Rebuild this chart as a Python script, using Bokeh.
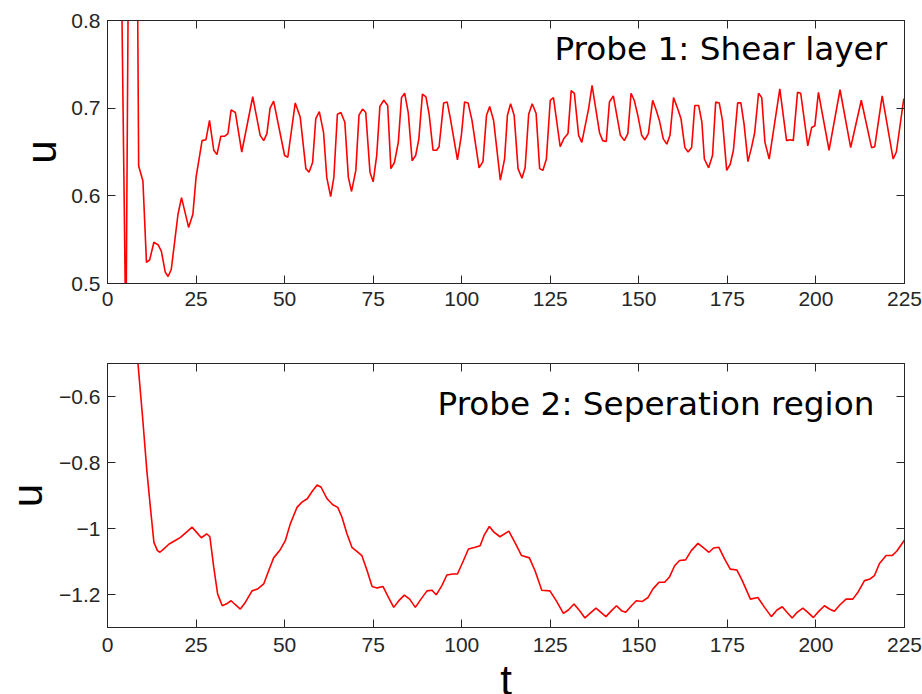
from bokeh.plotting import figure
from bokeh.models import Range1d, LinearAxis, FixedTicker, Label
from bokeh.layouts import column
from bokeh.embed import file_html
from bokeh.resources import INLINE

# ---------------- data ----------------
x_ticks = [0, 25, 50, 75, 100, 125, 150, 175, 200, 225]
y1_ticks = [0.5, 0.6, 0.7, 0.8]
y1_labels = ["0.5", "0.6", "0.7", "0.8"]
y2_ticks = [-1.2, -1.0, -0.8, -0.6]
y2_labels = ["\u22121.2", "\u22121", "\u22120.8", "\u22120.6"]

title1 = "Probe 1: Shear layer"
title2 = "Probe 2: Seperation region"
y_title = "u"
x_title = "t"

# Probe 1 (shear layer)
t1 = [3.5, 5.2, 6.0, 8.3, 8.8, 10.0, 11.0, 11.9, 13.1, 14.3,
      15.2, 16.3, 17.1, 18.0, 19.9, 20.9, 22.9, 24.1, 25.0, 26.7,
      27.8, 28.8, 30.0, 30.9, 32.0, 33.1, 34.0, 34.9, 36.1, 37.9,
      41.0, 43.1, 44.1, 45.0, 45.9, 46.9, 50.0, 50.9, 53.0, 54.4,
      56.0, 56.9, 57.9, 58.8, 59.8, 61.0, 61.9, 63.0, 63.9, 64.9,
      65.9, 67.0, 68.0, 68.9, 70.1, 71.0, 72.0, 72.9, 74.1, 75.0,
      76.0, 76.9, 78.0, 79.1, 80.0, 81.0, 82.1, 83.0, 83.9, 84.9,
      86.0, 87.0, 87.9, 88.9, 89.9, 90.8, 91.9, 92.9, 93.6, 94.9,
      95.9, 96.8, 98.8, 99.9, 100.8, 101.8, 102.9, 104.9, 106.0, 107.0,
      107.9, 109.0, 110.9, 112.1, 112.9, 113.8, 114.8, 115.9, 117.0, 117.9,
      118.9, 119.9, 121.0, 122.0, 122.9, 123.9, 125.0, 125.9, 127.8, 128.8,
      130.0, 130.9, 131.8, 133.0, 133.9, 135.8, 136.8, 138.9, 139.8, 140.8,
      141.7, 142.8, 144.8, 145.9, 146.9, 147.8, 148.7, 149.7, 150.8, 151.7,
      152.7, 153.9, 154.8, 155.8, 156.9, 157.9, 158.8, 159.8, 161.0, 161.9,
      163.0, 163.9, 164.9, 165.8, 166.9, 167.8, 168.5, 169.7, 170.8, 171.7,
      172.7, 173.6, 174.8, 175.8, 176.7, 177.9, 178.8, 179.7, 180.8, 181.8,
      182.7, 183.8, 184.7, 185.6, 186.8, 189.8, 191.7, 192.7, 193.6, 194.8,
      195.7, 197.7, 198.8, 199.7, 200.7, 203.7, 206.8, 209.8, 212.8, 215.7,
      216.6, 218.7, 221.8, 222.7, 224.8]
u1 = [1.0, 0.43, 0.93, 0.95, 0.634, 0.617, 0.524, 0.527, 0.547, 0.544,
      0.537, 0.513, 0.508, 0.516, 0.579, 0.598, 0.564, 0.579, 0.621, 0.663,
      0.664, 0.686, 0.652, 0.647, 0.668, 0.668, 0.671, 0.698, 0.695, 0.650,
      0.713, 0.669, 0.663, 0.671, 0.700, 0.708, 0.646, 0.644, 0.706, 0.690,
      0.631, 0.627, 0.638, 0.688, 0.696, 0.672, 0.621, 0.599, 0.621, 0.693,
      0.695, 0.684, 0.621, 0.605, 0.629, 0.692, 0.699, 0.695, 0.627, 0.616,
      0.646, 0.702, 0.709, 0.703, 0.631, 0.638, 0.661, 0.712, 0.717, 0.695,
      0.640, 0.646, 0.665, 0.716, 0.713, 0.693, 0.652, 0.652, 0.656, 0.706,
      0.707, 0.688, 0.641, 0.669, 0.707, 0.706, 0.686, 0.632, 0.639, 0.692,
      0.702, 0.686, 0.618, 0.642, 0.692, 0.705, 0.692, 0.631, 0.620, 0.632,
      0.693, 0.705, 0.694, 0.631, 0.629, 0.642, 0.709, 0.712, 0.656, 0.665,
      0.671, 0.720, 0.717, 0.669, 0.661, 0.699, 0.726, 0.672, 0.663, 0.662,
      0.707, 0.714, 0.669, 0.663, 0.671, 0.717, 0.709, 0.692, 0.669, 0.664,
      0.671, 0.709, 0.699, 0.686, 0.665, 0.659, 0.669, 0.712, 0.699, 0.688,
      0.655, 0.650, 0.655, 0.703, 0.703, 0.684, 0.642, 0.632, 0.646, 0.707,
      0.706, 0.686, 0.629, 0.636, 0.652, 0.706, 0.706, 0.682, 0.639, 0.655,
      0.672, 0.717, 0.712, 0.661, 0.642, 0.722, 0.663, 0.664, 0.663, 0.718,
      0.717, 0.657, 0.678, 0.680, 0.718, 0.652, 0.721, 0.655, 0.709, 0.655,
      0.656, 0.714, 0.642, 0.650, 0.711]

# Probe 2 (separation region)
t2 = [7.8, 9.9, 11.1, 12.2, 13.1, 14.1, 14.8, 15.9, 17.4, 19.0,
      20.6, 22.3, 23.9, 25.1, 26.5, 28.0, 28.9, 30.0, 31.1, 32.4,
      33.8, 34.9, 36.1, 37.5, 38.9, 40.8, 42.4, 44.1, 45.5, 46.9,
      48.6, 50.2, 51.6, 53.5, 54.9, 56.4, 57.8, 59.2, 60.3, 62.0,
      63.6, 65.0, 66.2, 67.6, 69.0, 70.4, 71.8, 73.3, 74.7, 76.1,
      77.8, 79.1, 80.8, 82.4, 83.8, 85.3, 86.9, 88.5, 90.2, 91.6,
      92.8, 94.4, 95.8, 97.5, 98.8, 100.5, 101.9, 103.8, 105.2, 106.3,
      107.8, 109.1, 110.8, 113.3, 115.0, 116.9, 119.1, 120.7, 122.6, 124.9,
      126.8, 128.7, 130.1, 131.7, 133.4, 134.8, 136.2, 137.9, 139.3, 140.7,
      142.3, 143.7, 145.1, 146.3, 147.9, 149.3, 151.0, 152.6, 154.0, 155.7,
      157.3, 158.7, 160.1, 161.5, 163.2, 164.8, 166.7, 168.3, 169.8, 171.1,
      172.6, 174.2, 175.8, 177.7, 179.2, 181.5, 183.6, 185.5, 187.4, 189.0,
      190.5, 191.8, 193.3, 194.7, 196.3, 197.7, 199.3, 200.8, 202.4, 203.8,
      205.2, 206.8, 208.5, 210.4, 211.8, 213.7, 215.3, 216.5, 217.9, 219.8,
      221.5, 222.8, 225.0]
u2 = [-0.40, -0.662, -0.824, -0.946, -1.042, -1.067, -1.072, -1.062, -1.047, -1.037,
      -1.027, -1.011, -0.996, -1.011, -1.028, -1.016, -1.025, -1.118, -1.199, -1.234,
      -1.227, -1.219, -1.231, -1.244, -1.224, -1.189, -1.183, -1.168, -1.128, -1.089,
      -1.067, -1.037, -0.986, -0.936, -0.920, -0.910, -0.887, -0.868, -0.875, -0.910,
      -0.928, -0.936, -0.966, -1.016, -1.057, -1.069, -1.082, -1.128, -1.176, -1.180,
      -1.176, -1.204, -1.239, -1.217, -1.202, -1.214, -1.239, -1.214, -1.189, -1.187,
      -1.201, -1.173, -1.141, -1.138, -1.138, -1.097, -1.062, -1.057, -1.052, -1.021,
      -0.994, -1.011, -1.025, -1.008, -1.042, -1.082, -1.089, -1.128, -1.187, -1.189,
      -1.221, -1.257, -1.247, -1.229, -1.251, -1.271, -1.257, -1.241, -1.254, -1.267,
      -1.249, -1.234, -1.249, -1.254, -1.234, -1.219, -1.221, -1.209, -1.183, -1.163,
      -1.163, -1.146, -1.113, -1.097, -1.095, -1.067, -1.045, -1.059, -1.072, -1.059,
      -1.057, -1.092, -1.123, -1.126, -1.158, -1.214, -1.209, -1.239, -1.267, -1.247,
      -1.237, -1.254, -1.271, -1.254, -1.241, -1.254, -1.270, -1.251, -1.234, -1.244,
      -1.251, -1.231, -1.214, -1.214, -1.194, -1.158, -1.153, -1.143, -1.107, -1.082,
      -1.082, -1.069, -1.035]

# ---------------- style ----------------
AX = "#262626"
TICK_FONT = "Liberation Sans"
LINE_RED = "#ff0000"
W = 922


def make_panel(t, u, xr, yr, yticks, ylabels, height, borders, x_standoff, ylab_standoff):
    left, right, top, bottom = borders
    p = figure(width=W, height=height, output_backend="svg", toolbar_location=None,
               x_range=Range1d(*xr), y_range=Range1d(*yr),
               min_border_left=left, min_border_right=right,
               min_border_top=top, min_border_bottom=bottom)
    p.title.visible = False
    p.background_fill_color = "white"
    p.border_fill_color = "white"
    p.outline_line_color = AX
    p.grid.visible = False

    p.xaxis.ticker = FixedTicker(ticks=x_ticks)
    p.yaxis.ticker = FixedTicker(ticks=yticks)
    p.yaxis.major_label_overrides = dict(zip(yticks, ylabels))

    # box on: tick-only axes on the top and right edges
    top_ax = LinearAxis(ticker=FixedTicker(ticks=x_ticks))
    right_ax = LinearAxis(ticker=FixedTicker(ticks=yticks))
    for ax in (top_ax, right_ax):
        ax.major_label_text_font_size = "1px"
        ax.major_label_text_color = None
        ax.major_label_standoff = 0
    p.add_layout(top_ax, "above")
    p.add_layout(right_ax, "right")

    for ax in p.axis:
        ax.major_tick_in = 8
        ax.major_tick_out = 0
        ax.minor_tick_line_color = None
        ax.axis_line_color = AX
        ax.axis_line_width = 1
        ax.major_tick_line_color = AX
        ax.major_tick_line_width = 1

    bx = p.below[0]
    bx.major_label_text_font = TICK_FONT
    bx.major_label_text_font_size = "21px"
    bx.major_label_text_color = AX
    bx.major_label_standoff = x_standoff

    ly = p.left[0]
    ly.major_label_text_font = TICK_FONT
    ly.major_label_text_font_size = "21px"
    ly.major_label_text_color = AX
    ly.major_label_standoff = 7
    ly.axis_label = y_title
    ly.axis_label_text_font = TICK_FONT
    ly.axis_label_text_font_size = "42px"
    ly.axis_label_text_font_style = "normal"
    ly.axis_label_text_color = "black"
    ly.axis_label_standoff = ylab_standoff

    p.line(t, u, line_color=LINE_RED, line_width=1.6)
    return p


p1 = make_panel(t1, u1, (0, 225), (0.5, 0.8), y1_ticks, y1_labels, 328, (105, 18, 20, 45), 8, 3)
p2 = make_panel(t2, u2, (0, 225), (-1.3, -0.5), y2_ticks, y2_labels, 334, (107, 17, 35, 35), 10, 5)

p1.add_layout(Label(x=220.1, y=0.767, text=title1, text_font="DejaVu Sans",
                    text_font_size="32.7px", text_align="right", text_baseline="alphabetic",
                    text_color="black"))
p2.add_layout(Label(x=216.5, y=-0.622, text=title2, text_font="DejaVu Sans",
                    text_font_size="32.7px", text_align="right", text_baseline="alphabetic",
                    text_color="black"))

# strip under the lower panel that carries the x-axis title "t"
p3 = figure(width=W, height=32, output_backend="svg", toolbar_location=None,
            x_range=Range1d(0, 225), y_range=Range1d(0, 32),
            x_axis_location=None, y_axis_location=None,
            min_border_left=107, min_border_right=17, min_border_top=0, min_border_bottom=0)
p3.title.visible = False
p3.outline_line_color = None
p3.grid.visible = False
p3.background_fill_color = "white"
p3.border_fill_color = "white"
p3.add_layout(Label(x=112.5, y=14, text=x_title, text_font=TICK_FONT,
                    text_font_size="42px", text_align="center", text_baseline="middle",
                    text_color="black"))

layout = column(p1, p2, p3)
open("out.html", "w").write(file_html(layout, INLINE))
